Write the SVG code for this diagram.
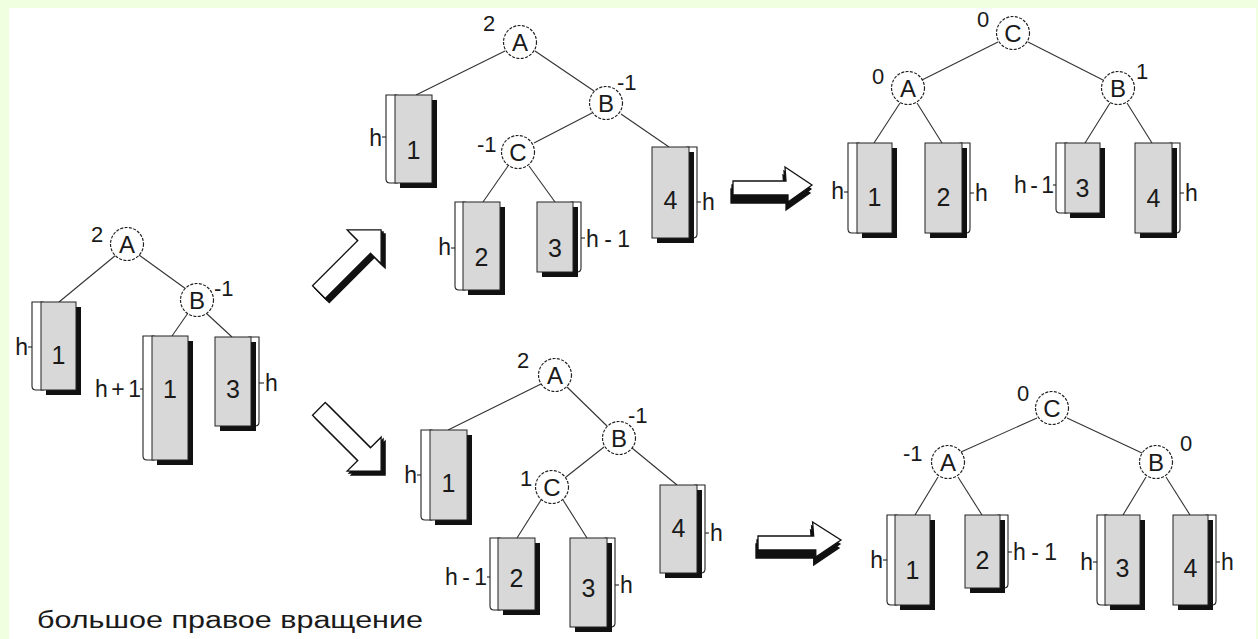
<svg xmlns="http://www.w3.org/2000/svg" width="1258" height="639" viewBox="0 0 1258 639">
  <style>
    text { font-family: "Liberation Sans", Arial, sans-serif; fill: #1a1a1a; }
    .nd { fill: #fff; stroke: #222; stroke-width: 1.2; stroke-dasharray: 3 1.4; }
    .ltr { font-size: 24px; text-anchor: middle; }
    .bal { font-size: 22px; }
    .mid { text-anchor: middle; }
    .br { fill: #fff; stroke: #222; stroke-width: 1.1; }
    .sh { fill: #111; }
    .bx { fill: #d8d8d8; stroke: #222; stroke-width: 1; }
    .dg { font-size: 25px; text-anchor: middle; }
    .tk { fill: none; stroke: #222; stroke-width: 1.1; }
    .lb { font-size: 23px; }
    .end { text-anchor: end; }
    .edge line { stroke: #333; stroke-width: 1.1; }
    .aw { fill: #fff; stroke: #111; stroke-width: 1.3; stroke-linejoin: miter; }
    .ab { fill: #111; stroke: #111; stroke-width: 1.3; }
    .cap { font-size: 23px; }
  </style>
  <defs>
    <!-- diagonal hollow arrow, pointing along +x -->
    <path id="darr" d="M-44,-9 L20,-9 L20,-24 L44,0 L20,24 L20,9 L-44,9 Z"/>
    <!-- flattened horizontal hollow arrow -->
    <path id="harr" d="M0,16 L53,16 L52,2 L79,20 L55,37 L55,30 L0,30 Z"/>
  </defs>

  <!-- frame -->
  <rect x="0" y="0" width="1258" height="639" fill="#f0ffe0"/>
  <rect x="9" y="8" width="1247" height="631" fill="#fff"/>

  <!-- ===== tree 0 (initial) ===== -->
  <g id="t0-edges" class="edge">
    <line x1="116" y1="255" x2="59" y2="302"/>
    <line x1="139" y1="255" x2="186" y2="289"/>
    <line x1="188" y1="313" x2="172" y2="336"/>
    <line x1="206" y1="313" x2="232" y2="337"/>
  </g>
  <g id="t0-A"><circle class="nd" cx="127" cy="244" r="16.5"/><text class="ltr" x="127" y="252.5">A</text><text class="bal mid" x="97" y="242">2</text></g>
  <g id="t0-B"><circle class="nd" cx="197" cy="300" r="16.5"/><text class="ltr" x="197" y="308.5">B</text><text class="bal" x="214" y="296">-1</text></g>
  <g id="t0-s1">
    <path class="br" d="M43,302 H32 V386 Q32,390 36,390 H43 Z"/>
    <rect class="sh" x="46" y="307" width="35" height="88"/>
    <rect class="bx" x="41" y="302" width="35" height="88"/>
    <text class="dg" x="58.5" y="364">1</text>
    <path class="tk" d="M32,347 h-4"/>
    <text class="lb end" x="28" y="355">h</text>
  </g>
  <g id="t0-s2">
    <path class="br" d="M154,336 H143 V456 Q143,460 147,460 H154 Z"/>
    <rect class="sh" x="157" y="341" width="36" height="124"/>
    <rect class="bx" x="152" y="336" width="36" height="124"/>
    <text class="dg" x="170" y="398">1</text>
    <path class="tk" d="M143,389 h-3"/>
    <text class="lb end" x="141" y="397" textLength="46" lengthAdjust="spacing">h+1</text>
  </g>
  <g id="t0-s3">
    <path class="br" d="M249,337 H259 V422 Q259,426 255,426 H249 Z"/>
    <rect class="sh" x="220" y="342" width="36" height="89"/>
    <rect class="bx" x="215" y="337" width="36" height="89"/>
    <text class="dg" x="233" y="398">3</text>
    <path class="tk" d="M259,383 h5"/>
    <text class="lb" x="265" y="391">h</text>
  </g>

  <!-- transition arrows -->
  <g id="arrow-up">
    <use href="#darr" class="ab" transform="translate(354,265) rotate(-45)"/>
    <use href="#darr" class="ab" transform="translate(352,263) rotate(-45)"/>
    <use href="#darr" class="aw" transform="translate(350,261) rotate(-45)"/>
  </g>
  <g id="arrow-down">
    <use href="#darr" class="ab" transform="translate(354,444) rotate(45)"/>
    <use href="#darr" class="ab" transform="translate(352,442) rotate(45)"/>
    <use href="#darr" class="aw" transform="translate(350,440) rotate(45)"/>
  </g>
  <g id="arrow-right-top">
    <use href="#harr" class="ab" transform="translate(731,173)"/>
    <use href="#harr" class="ab" transform="translate(732,169)"/>
    <use href="#harr" class="aw" transform="translate(733,165)"/>
  </g>
  <g id="arrow-right-bottom">
    <use href="#harr" class="ab" transform="translate(756,528) scale(1.05,1)"/>
    <use href="#harr" class="ab" transform="translate(757,524) scale(1.05,1)"/>
    <use href="#harr" class="aw" transform="translate(758,520) scale(1.05,1)"/>
  </g>

  <!-- ===== tree 1 (upper middle) ===== -->
  <g id="t1-edges" class="edge">
    <line x1="505" y1="51" x2="416" y2="95"/>
    <line x1="535" y1="51" x2="594" y2="91"/>
    <line x1="592" y1="113" x2="534" y2="143"/>
    <line x1="621" y1="114" x2="669" y2="147"/>
    <line x1="508" y1="166" x2="483" y2="202"/>
    <line x1="529" y1="166" x2="555" y2="202"/>
  </g>
  <g id="t1-A"><circle class="nd" cx="520" cy="42" r="16.5"/><text class="ltr" x="520" y="50.5">A</text><text class="bal mid" x="489" y="31">2</text></g>
  <g id="t1-B"><circle class="nd" cx="606" cy="103" r="16.5"/><text class="ltr" x="606" y="111.5">B</text><text class="bal" x="617" y="90">-1</text></g>
  <g id="t1-C"><circle class="nd" cx="518" cy="152" r="16.5"/><text class="ltr" x="518" y="160.5">C</text><text class="bal" x="477" y="152">-1</text></g>
  <g id="t1-s1">
    <path class="br" d="M397,95 H386 V179 Q386,183 390,183 H397 Z"/>
    <rect class="sh" x="400" y="100" width="37" height="88"/>
    <rect class="bx" x="395" y="95" width="37" height="88"/>
    <text class="dg" x="413.5" y="159">1</text>
    <path class="tk" d="M386,137 h-4"/>
    <text class="lb end" x="382" y="146">h</text>
  </g>
  <g id="t1-s4">
    <path class="br" d="M687,147 H697 V234 Q697,238 693,238 H687 Z"/>
    <rect class="sh" x="657" y="152" width="37" height="91"/>
    <rect class="bx" x="652" y="147" width="37" height="91"/>
    <text class="dg" x="670.5" y="209">4</text>
    <path class="tk" d="M697,202 h4"/>
    <text class="lb" x="702" y="210">h</text>
  </g>
  <g id="t1-s2">
    <path class="br" d="M465,202 H455 V286 Q455,290 459,290 H465 Z"/>
    <rect class="sh" x="468" y="207" width="37" height="88"/>
    <rect class="bx" x="463" y="202" width="37" height="88"/>
    <text class="dg" x="481.5" y="266">2</text>
    <path class="tk" d="M455,248 h-4"/>
    <text class="lb end" x="451" y="255">h</text>
  </g>
  <g id="t1-s3">
    <path class="br" d="M571,202 H581 V268 Q581,272 577,272 H571 Z"/>
    <rect class="sh" x="542" y="207" width="36" height="70"/>
    <rect class="bx" x="537" y="202" width="36" height="70"/>
    <text class="dg" x="555" y="257">3</text>
    <path class="tk" d="M581,238 h4"/>
    <text class="lb" x="586" y="247" textLength="44" lengthAdjust="spacing">h-1</text>
  </g>

  <!-- ===== tree 2 (upper right) ===== -->
  <g id="t2-edges" class="edge">
    <line x1="998" y1="42" x2="922" y2="80"/>
    <line x1="1028" y1="42" x2="1103" y2="80"/>
    <line x1="900" y1="103" x2="874" y2="143"/>
    <line x1="917" y1="103" x2="942" y2="143"/>
    <line x1="1110" y1="103" x2="1085" y2="143"/>
    <line x1="1127" y1="103" x2="1152" y2="143"/>
  </g>
  <g id="t2-C"><circle class="nd" cx="1013" cy="33" r="16.5"/><text class="ltr" x="1013" y="41.5">C</text><text class="bal mid" x="983" y="27">0</text></g>
  <g id="t2-A"><circle class="nd" cx="908" cy="88" r="16.5"/><text class="ltr" x="908" y="96.5">A</text><text class="bal mid" x="878" y="84">0</text></g>
  <g id="t2-B"><circle class="nd" cx="1118" cy="88" r="16.5"/><text class="ltr" x="1118" y="96.5">B</text><text class="bal mid" x="1142" y="79">1</text></g>
  <g id="t2-s1">
    <path class="br" d="M859,143 H848 V229 Q848,233 852,233 H859 Z"/>
    <rect class="sh" x="862" y="148" width="35" height="90"/>
    <rect class="bx" x="857" y="143" width="35" height="90"/>
    <text class="dg" x="874.5" y="206">1</text>
    <path class="tk" d="M848,192 h-4"/>
    <text class="lb end" x="844" y="199">h</text>
  </g>
  <g id="t2-s2">
    <path class="br" d="M960,143 H970 V229 Q970,233 966,233 H960 Z"/>
    <rect class="sh" x="930" y="148" width="37" height="90"/>
    <rect class="bx" x="925" y="143" width="37" height="90"/>
    <text class="dg" x="943.5" y="206">2</text>
    <path class="tk" d="M970,193 h4"/>
    <text class="lb" x="975" y="201">h</text>
  </g>
  <g id="t2-s3">
    <path class="br" d="M1067,143 H1056 V209 Q1056,213 1060,213 H1067 Z"/>
    <rect class="sh" x="1070" y="148" width="35" height="70"/>
    <rect class="bx" x="1065" y="143" width="35" height="70"/>
    <text class="dg" x="1082.5" y="197">3</text>
    <path class="tk" d="M1056,185 h-3"/>
    <text class="lb end" x="1054" y="193" textLength="40" lengthAdjust="spacing">h-1</text>
  </g>
  <g id="t2-s4">
    <path class="br" d="M1170,143 H1180 V229 Q1180,233 1176,233 H1170 Z"/>
    <rect class="sh" x="1140" y="148" width="37" height="90"/>
    <rect class="bx" x="1135" y="143" width="37" height="90"/>
    <text class="dg" x="1153.5" y="207">4</text>
    <path class="tk" d="M1180,193 h4"/>
    <text class="lb" x="1185" y="201">h</text>
  </g>

  <!-- ===== tree 3 (lower middle) ===== -->
  <g id="t3-edges" class="edge">
    <line x1="541" y1="384" x2="448" y2="430"/>
    <line x1="567" y1="387" x2="607" y2="426"/>
    <line x1="604" y1="447" x2="566" y2="477"/>
    <line x1="632" y1="448" x2="677" y2="485"/>
    <line x1="541" y1="500" x2="517" y2="538"/>
    <line x1="563" y1="500" x2="587" y2="538"/>
  </g>
  <g id="t3-A"><circle class="nd" cx="555" cy="375" r="16.5"/><text class="ltr" x="555" y="383.5">A</text><text class="bal mid" x="523" y="368">2</text></g>
  <g id="t3-B"><circle class="nd" cx="619" cy="438" r="16.5"/><text class="ltr" x="619" y="446.5">B</text><text class="bal" x="628" y="423">-1</text></g>
  <g id="t3-C"><circle class="nd" cx="552" cy="487" r="16.5"/><text class="ltr" x="552" y="495.5">C</text><text class="bal mid" x="526" y="486">1</text></g>
  <g id="t3-s1">
    <path class="br" d="M432,430 H421 V516 Q421,520 425,520 H432 Z"/>
    <rect class="sh" x="435" y="435" width="37" height="90"/>
    <rect class="bx" x="430" y="430" width="37" height="90"/>
    <text class="dg" x="448.5" y="492">1</text>
    <path class="tk" d="M421,475 h-4"/>
    <text class="lb end" x="417" y="483">h</text>
  </g>
  <g id="t3-s4">
    <path class="br" d="M695,485 H705 V569 Q705,573 701,573 H695 Z"/>
    <rect class="sh" x="665" y="490" width="37" height="88"/>
    <rect class="bx" x="660" y="485" width="37" height="88"/>
    <text class="dg" x="678.5" y="537">4</text>
    <path class="tk" d="M705,533 h4"/>
    <text class="lb" x="710" y="541">h</text>
  </g>
  <g id="t3-s2">
    <path class="br" d="M500,538 H490 V606 Q490,610 494,610 H500 Z"/>
    <rect class="sh" x="503" y="543" width="37" height="72"/>
    <rect class="bx" x="498" y="538" width="37" height="72"/>
    <text class="dg" x="516.5" y="587">2</text>
    <path class="tk" d="M490,577 h-3"/>
    <text class="lb end" x="487" y="585" textLength="42" lengthAdjust="spacing">h-1</text>
  </g>
  <g id="t3-s3">
    <path class="br" d="M605,538 H615 V623 Q615,627 611,627 H605 Z"/>
    <rect class="sh" x="575" y="543" width="37" height="89"/>
    <rect class="bx" x="570" y="538" width="37" height="89"/>
    <text class="dg" x="588.5" y="597">3</text>
    <path class="tk" d="M615,585 h4"/>
    <text class="lb" x="620" y="593">h</text>
  </g>

  <!-- ===== tree 4 (lower right) ===== -->
  <g id="t4-edges" class="edge">
    <line x1="1037" y1="418" x2="961" y2="452"/>
    <line x1="1067" y1="418" x2="1142" y2="453"/>
    <line x1="938" y1="477" x2="915" y2="515"/>
    <line x1="958" y1="477" x2="982" y2="515"/>
    <line x1="1146" y1="477" x2="1123" y2="515"/>
    <line x1="1166" y1="477" x2="1190" y2="515"/>
  </g>
  <g id="t4-C"><circle class="nd" cx="1052" cy="408" r="16.5"/><text class="ltr" x="1052" y="416.5">C</text><text class="bal mid" x="1023" y="401">0</text></g>
  <g id="t4-A"><circle class="nd" cx="948" cy="462" r="16.5"/><text class="ltr" x="948" y="470.5">A</text><text class="bal" x="903" y="461">-1</text></g>
  <g id="t4-B"><circle class="nd" cx="1156" cy="462" r="16.5"/><text class="ltr" x="1156" y="470.5">B</text><text class="bal mid" x="1186" y="451">0</text></g>
  <g id="t4-s1">
    <path class="br" d="M897,515 H887 V601 Q887,605 891,605 H897 Z"/>
    <rect class="sh" x="900" y="520" width="35" height="90"/>
    <rect class="bx" x="895" y="515" width="35" height="90"/>
    <text class="dg" x="912.5" y="579">1</text>
    <path class="tk" d="M887,560 h-4"/>
    <text class="lb end" x="883" y="568">h</text>
  </g>
  <g id="t4-s2">
    <path class="br" d="M998,515 H1008 V584 Q1008,588 1004,588 H998 Z"/>
    <rect class="sh" x="970" y="520" width="35" height="73"/>
    <rect class="bx" x="965" y="515" width="35" height="73"/>
    <text class="dg" x="982.5" y="569">2</text>
    <path class="tk" d="M1008,552 h4"/>
    <text class="lb" x="1013" y="560" textLength="44" lengthAdjust="spacing">h-1</text>
  </g>
  <g id="t4-s3">
    <path class="br" d="M1107,515 H1097 V601 Q1097,605 1101,605 H1107 Z"/>
    <rect class="sh" x="1110" y="520" width="35" height="90"/>
    <rect class="bx" x="1105" y="515" width="35" height="90"/>
    <text class="dg" x="1122.5" y="577">3</text>
    <path class="tk" d="M1097,562 h-4"/>
    <text class="lb end" x="1093" y="570">h</text>
  </g>
  <g id="t4-s4">
    <path class="br" d="M1206,515 H1216 V601 Q1216,605 1212,605 H1206 Z"/>
    <rect class="sh" x="1178" y="520" width="35" height="90"/>
    <rect class="bx" x="1173" y="515" width="35" height="90"/>
    <text class="dg" x="1190.5" y="577">4</text>
    <path class="tk" d="M1216,562 h4"/>
    <text class="lb" x="1221" y="570">h</text>
  </g>

  <!-- caption -->
  <text class="cap" x="37" y="628" textLength="386" lengthAdjust="spacingAndGlyphs">большое правое вращение</text>
</svg>
